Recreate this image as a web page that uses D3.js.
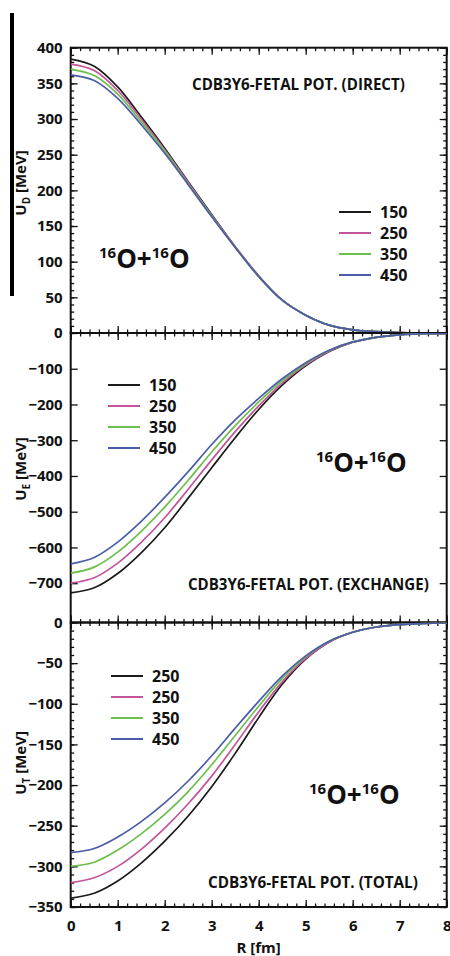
<!DOCTYPE html>
<html>
<head>
<meta charset="utf-8">
<script src="https://cdn.jsdelivr.net/npm/d3@7"></script>
<style>
  body { margin: 0; background: #fff; }
  svg { display: block; }
  text { font-family: "Open Sans", "Noto Sans", sans-serif; font-weight: 700; fill: #111; }
</style>
</head>
<body>
<script>
// Radial distance grid (fm)
const radius = [0, 0.5, 1, 1.5, 2, 2.5, 3, 3.5, 4, 4.5, 5, 5.5, 6, 6.5, 7, 7.5, 8];

// Legend entries
const energyLabels = ["150", "250", "350", "450"];
const totalLegendLabels = ["250", "250", "350", "450"];
const seriesColors = ["#1b1b1b", "#c2559c", "#6cbf4c", "#4b5ca8"];

// Direct part U_D (MeV)
const direct150 = [384, 374, 345, 303, 259, 212, 166, 121, 80, 46, 25, 11, 4.5, 1.8, 0.6, 0.2, 0.05];
const direct250 = [377, 368, 340, 300, 257, 211, 165, 121, 80, 46, 25, 11, 4.5, 1.8, 0.6, 0.2, 0.05];
const direct350 = [370, 361, 335, 296, 255, 209, 164, 120, 79, 46, 25, 11, 4.5, 1.8, 0.6, 0.2, 0.05];
const direct450 = [362, 354, 329, 292, 252, 208, 163, 120, 79, 46, 25, 11, 4.5, 1.8, 0.6, 0.2, 0.05];

// Exchange part U_E (MeV)
const exchange150 = [-727, -713, -673, -615, -545, -462, -377, -293, -214, -146, -92, -52, -26, -12, -5, -2, -1];
const exchange250 = [-700, -685, -644, -586, -517, -437, -355, -276, -204, -140, -89, -51, -26, -12, -5, -2, -1];
const exchange350 = [-672, -655, -613, -555, -487, -412, -333, -259, -193, -134, -86, -49, -25, -12, -5, -2, -1];
const exchange450 = [-646, -628, -585, -527, -460, -388, -312, -243, -183, -128, -83, -48, -25, -12, -5, -2, -1];

// Total U_T (MeV)
const total150 = [-339, -333, -318, -296, -269, -238, -202, -161, -117, -76, -45, -24, -12, -5.5, -2.5, -1.2, -0.6];
const total250 = [-320, -314, -300, -279, -253, -223, -189, -150, -110, -73, -44, -24, -12, -5.5, -2.5, -1.2, -0.6];
const total350 = [-300, -295, -280, -260, -236, -208, -175, -139, -103, -69, -42, -23, -12, -5.5, -2.5, -1.2, -0.6];
const total450 = [-283, -278, -264, -245, -222, -195, -164, -130, -97, -66, -41, -23, -12, -5.5, -2.5, -1.2, -0.6];

// Axis ticks
const xTicks = [0, 1, 2, 3, 4, 5, 6, 7, 8];
const directTicks = [50, 100, 150, 200, 250, 300, 350, 400];
const exchangeTicks = [0, -100, -200, -300, -400, -500, -600, -700];
const totalTicks = [0, -50, -100, -150, -200, -250, -300, -350];

const W = 450, H = 956;
const svg = d3.select("body").append("svg").attr("width", W).attr("height", H);

const x = d3.scaleLinear().domain([0, 8]).range([70.7, 446.7]);
const xMinor = d3.range(0, 8.0001, 0.2);

const panels = [
  { id: "direct", top: 47.7, bottom: 333, domain: [0, 400], ticks: directTicks, minorStep: 10,
    series: [direct150, direct250, direct350, direct450], legend: energyLabels,
    title: "D", titleY: 183,
    legendX: 339, legendY: 212,
    note: "CDB3Y6-FETAL POT. (DIRECT)", noteX: 192, noteW: 213, noteY: 85,
    isoX: 99, isoY: 267.5 },
  { id: "exchange", top: 333, bottom: 622.5, domain: [-810, 0], ticks: exchangeTicks, minorStep: 20,
    series: [exchange150, exchange250, exchange350, exchange450], legend: energyLabels,
    title: "E", titleY: 469,
    legendX: 108, legendY: 385,
    note: "CDB3Y6-FETAL POT. (EXCHANGE)", noteX: 188, noteW: 241, noteY: 585,
    isoX: 316, isoY: 471.5 },
  { id: "total", top: 622.5, bottom: 907, domain: [-350, 0], ticks: totalTicks, minorStep: 10,
    series: [total150, total250, total350, total450], legend: totalLegendLabels,
    title: "T", titleY: 763,
    legendX: 111, legendY: 676,
    note: "CDB3Y6-FETAL POT. (TOTAL)", noteX: 208, noteW: 210, noteY: 883,
    isoX: 309, isoY: 803.5 }
];

// Dark bar along the left margin
svg.append("rect").attr("x", 10).attr("y", 13).attr("width", 4).attr("height", 283).attr("fill", "#000");

const fmt = d3.format("d");

panels.forEach((p, pi) => {
  const y = d3.scaleLinear().domain(p.domain).range([p.bottom, p.top]);
  const g = svg.append("g").attr("class", p.id);

  const clipId = "clip-" + p.id;
  svg.append("defs").append("clipPath").attr("id", clipId)
    .append("rect").attr("x", x(0)).attr("y", p.top).attr("width", x(8) - x(0)).attr("height", p.bottom - p.top);

  const yMinor = d3.range(p.domain[0], p.domain[1] + 0.001, p.minorStep)
    .filter(v => Math.abs(v / p.minorStep - Math.round(v / p.minorStep)) < 1e-6);

  // Left axis: inward ticks
  g.append("g").attr("transform", `translate(${x(0)},0)`)
    .call(d3.axisLeft(y).tickValues(yMinor).tickSize(-3.5).tickFormat(""))
    .call(a => a.select(".domain").remove());
  g.append("g").attr("transform", `translate(${x(0)},0)`)
    .call(d3.axisLeft(y).tickValues(p.ticks).tickSize(-7).tickPadding(8).tickFormat(fmt))
    .call(a => a.select(".domain").remove())
    .call(a => a.selectAll("text").attr("font-size", 15).attr("fill", "#111"));

  // Right axis: inward ticks
  g.append("g").attr("transform", `translate(${x(8)},0)`)
    .call(d3.axisRight(y).tickValues(yMinor).tickSize(-3.5).tickFormat(""))
    .call(a => a.select(".domain").remove());
  g.append("g").attr("transform", `translate(${x(8)},0)`)
    .call(d3.axisRight(y).tickValues(p.ticks.concat(p.id === "direct" ? [0] : [])).tickSize(-7).tickFormat(""))
    .call(a => a.select(".domain").remove());

  // Top and bottom: inward ticks
  g.append("g").attr("transform", `translate(0,${p.top})`)
    .call(d3.axisTop(x).tickValues(xMinor).tickSize(-3.5).tickFormat(""))
    .call(a => a.select(".domain").remove());
  g.append("g").attr("transform", `translate(0,${p.top})`)
    .call(d3.axisTop(x).tickValues(xTicks).tickSize(-7).tickFormat(""))
    .call(a => a.select(".domain").remove());
  g.append("g").attr("transform", `translate(0,${p.bottom})`)
    .call(d3.axisBottom(x).tickValues(xMinor).tickSize(-3.5).tickFormat(""))
    .call(a => a.select(".domain").remove());
  const bottomAxis = g.append("g").attr("transform", `translate(0,${p.bottom})`)
    .call(d3.axisBottom(x).tickValues(xTicks).tickSize(-7).tickPadding(13)
      .tickFormat(pi === 2 ? fmt : ""))
    .call(a => a.select(".domain").remove());
  bottomAxis.selectAll("text").attr("font-size", 15).attr("fill", "#111");

  g.selectAll(".tick line").attr("stroke", "#111").attr("stroke-width", 1.3);

  // Frame
  g.append("rect").attr("x", x(0)).attr("y", p.top)
    .attr("width", x(8) - x(0)).attr("height", p.bottom - p.top)
    .attr("fill", "none").attr("stroke", "#111").attr("stroke-width", 2);

  // Curves
  const line = d3.line().x((d, i) => x(radius[i])).y(d => y(d)).curve(d3.curveCatmullRom.alpha(0.5));
  g.append("g").attr("clip-path", `url(#${clipId})`)
    .selectAll("path").data(p.series).join("path")
    .attr("d", line).attr("fill", "none")
    .attr("stroke", (d, i) => seriesColors[i]).attr("stroke-width", 1.7);

  // Legend
  const lg = g.append("g");
  p.legend.forEach((lab, i) => {
    const ly = p.legendY + i * 21;
    lg.append("line").attr("x1", p.legendX).attr("x2", p.legendX + 32)
      .attr("y1", ly).attr("y2", ly).attr("stroke", seriesColors[i]).attr("stroke-width", 2);
    lg.append("text").attr("x", p.legendX + 41).attr("y", ly).attr("dy", "0.36em")
      .attr("font-size", 16).text(lab);
  });

  // Potential label
  const note = g.append("text").attr("x", p.noteX).attr("y", p.noteY).attr("dy", "0.36em")
    .attr("font-size", 12).text(p.note);
  const w0 = note.node().getComputedTextLength();
  note.attr("font-size", 12 * p.noteW / w0);

  // Reaction label
  const iso = g.append("text").attr("x", p.isoX).attr("y", p.isoY);
  iso.append("tspan").attr("font-size", 15).attr("dy", -10).text("16");
  iso.append("tspan").attr("font-size", 26).attr("dy", 10).text("O+");
  iso.append("tspan").attr("font-size", 15).attr("dy", -10).text("16");
  iso.append("tspan").attr("font-size", 26).attr("dy", 10).text("O");

  // Y-axis title
  const yt = g.append("text")
    .attr("transform", `translate(26,${p.titleY}) rotate(-90)`)
    .attr("text-anchor", "middle").attr("font-size", 15);
  yt.append("tspan").text("U");
  yt.append("tspan").attr("font-size", 10).attr("dy", 4).text(p.title);
  yt.append("tspan").attr("dy", -4).text(" [MeV]");
});

// X-axis title
svg.append("text").attr("x", x(4)).attr("y", 953).attr("text-anchor", "middle")
  .attr("font-size", 15).text("R [fm]");
</script>
</body>
</html>
